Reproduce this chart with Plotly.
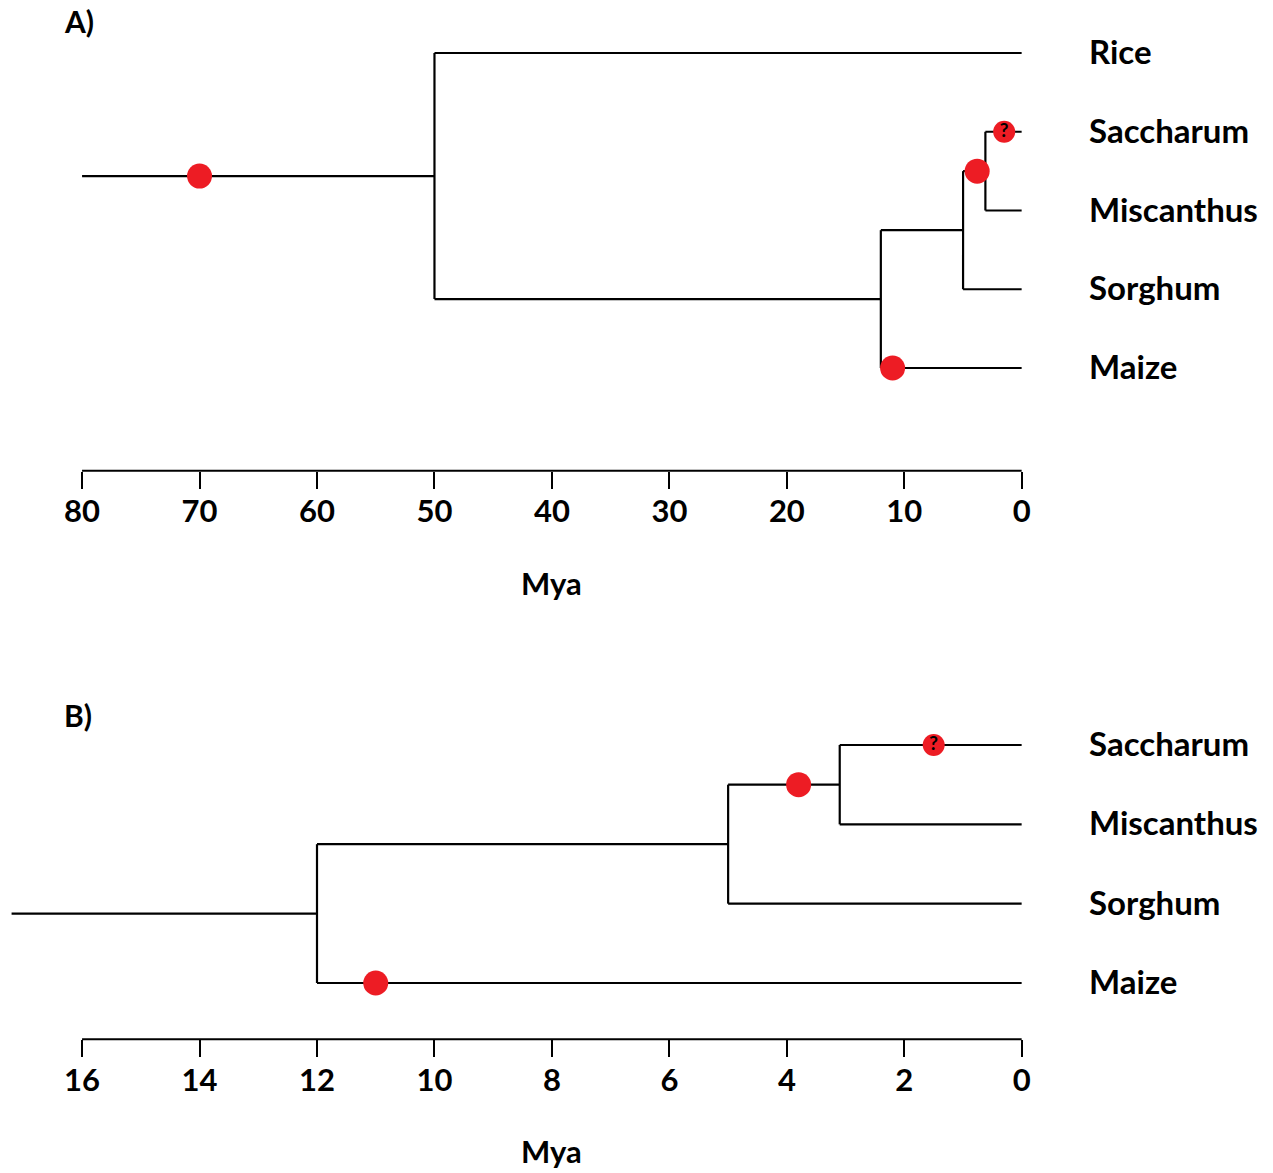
import plotly.graph_objects as go

# ---------------- data ----------------
# Panel A tree (ages in Mya)
tips_a = ["Rice", "Saccharum", "Miscanthus", "Sorghum", "Maize"]
root_start_a = 80
tree_a = (50, ["Rice", (12, [(5, [(3.1, ["Saccharum", "Miscanthus"]), "Sorghum"]), "Maize"])])
event_ages_a = [70, 3.8, 1.5, 11]
event_branch_a = ["root", "3.1", "Saccharum", "Maize"]
event_text_a = ["", "", "?", ""]
ticks_a = [80, 70, 60, 50, 40, 30, 20, 10, 0]

# Panel B tree
tips_b = ["Saccharum", "Miscanthus", "Sorghum", "Maize"]
root_start_b = 17.2
tree_b = (12, [(5, [(3.1, ["Saccharum", "Miscanthus"]), "Sorghum"]), "Maize"])
event_ages_b = [3.8, 1.5, 11]
event_branch_b = ["3.1", "Saccharum", "Maize"]
event_text_b = ["", "?", ""]
ticks_b = [16, 14, 12, 10, 8, 6, 4, 2, 0]

axis_title = "Mya"
panel_labels = ["A)", "B)"]

# ---------------- helpers ----------------
W, H = 1273, 1173      # reference canvas (positions below are given in these pixels)
FIG_W = 1283           # rendered width (page is squeezed slightly when photographed)
FONT = "Lato"
RED = "#ED1C24"


def layout_tree(tree, tips, root_start):
    n = len(tips)
    tip_y = {t: n - i for i, t in enumerate(tips)}
    xs, ys = [], []
    branch_y = {}

    def rec(node):
        if isinstance(node, str):
            return 0.0, tip_y[node], node
        age, children = node
        cinfo = [rec(c) for c in children]
        cy = [c[1] for c in cinfo]
        y = (min(cy) + max(cy)) / 2
        xs.extend([age, age, None])
        ys.extend([min(cy), max(cy), None])
        for cage, ccy, cname in cinfo:
            xs.extend([age, cage, None])
            ys.extend([ccy, ccy, None])
            branch_y[cname] = ccy
        return age, y, str(age)

    rage, ry, _ = rec(tree)
    xs.extend([root_start, rage, None])
    ys.extend([ry, ry, None])
    branch_y["root"] = ry
    return xs, ys, branch_y


fig = go.Figure()

# pixel geometry
x0_px, x80_px = 1021, 82
axisA_px, axisB_px = 470.7, 1039.3

panels = [
    dict(tree=tree_a, tips=tips_a, rs=root_start_a, ev=event_ages_a, eb=event_branch_a,
         et=event_text_a, ticks=ticks_a, xmax=80, axis_px=axisA_px, tip0_px=368.0, step=78.75,
         top_px=0.0, xa="x", ya="y"),
    dict(tree=tree_b, tips=tips_b, rs=root_start_b, ev=event_ages_b, eb=event_branch_b,
         et=event_text_b, ticks=ticks_b, xmax=16, axis_px=axisB_px, tip0_px=983.0, step=79.33,
         top_px=690.0, xa="x2", ya="y2"),
]

for k, p in enumerate(panels):
    xs, ys, by = layout_tree(p["tree"], p["tips"], p["rs"])
    fig.add_trace(go.Scatter(x=xs, y=ys, mode="lines", line=dict(color="black", width=2.2),
                             xaxis=p["xa"], yaxis=p["ya"], hoverinfo="skip", showlegend=False))
    ey = [by[b] for b in p["eb"]]
    sizes = [22 if t else 25 for t in p["et"]]
    fig.add_trace(go.Scatter(x=p["ev"], y=ey, mode="markers+text", text=p["et"],
                             textposition="middle center",
                             textfont=dict(family=FONT, size=19, color="black", weight="bold"),
                             marker=dict(color=RED, size=sizes, opacity=1, line=dict(width=0)),
                             xaxis=p["xa"], yaxis=p["ya"], showlegend=False, cliponaxis=False))

    pxu = (x0_px - x80_px) / p["xmax"]
    xr_max = p["xmax"] + x80_px / pxu
    n = len(p["tips"])
    y_bottom = 1 - (p["axis_px"] - p["tip0_px"]) / p["step"]
    y_top = 1 + (p["tip0_px"] - p["top_px"]) / p["step"]
    xname = "xaxis" if k == 0 else "xaxis2"
    yname = "yaxis" if k == 0 else "yaxis2"
    fig.update_layout(**{
        xname: dict(domain=[0, x0_px / W], range=[xr_max, 0], anchor=p["ya"],
                    showgrid=False, zeroline=False, showline=False,
                    tickmode="array", tickvals=p["ticks"], ticktext=[str(t) for t in p["ticks"]],
                    ticks="outside", ticklen=17, tickwidth=2, tickcolor="black",
                    tickfont=dict(family=FONT, size=31, color="black", weight="bold"),
                    ticklabelstandoff=-4, fixedrange=True),
        yname: dict(domain=[(H - p["axis_px"]) / H, (H - p["top_px"]) / H], range=[y_bottom, y_top],
                    anchor=p["xa"], visible=False, fixedrange=True),
    })
    # axis baseline
    fig.add_shape(type="line", xref=p["xa"], yref=p["ya"] + " domain", x0=p["xmax"], x1=0,
                  y0=0, y1=0, line=dict(color="black", width=2))
    # tip labels
    for i, t in enumerate(p["tips"]):
        fig.add_annotation(x=1086 / W, xref="paper", y=n - i, yref=p["ya"], text=t,
                           showarrow=False, xanchor="left", yanchor="middle", yshift=2,
                           font=dict(family=FONT, size=33, color="black", weight="bold"))
    # axis title
    fig.add_annotation(x=p["xmax"] / 2, xref=p["xa"], y=(H - (p["axis_px"] + 112)) / H, yref="paper",
                       text=axis_title, showarrow=False, xanchor="center", yanchor="middle",
                       font=dict(family=FONT, size=31, color="black", weight="bold"))
    # panel label
    fig.add_annotation(x=62 / W, xref="paper", y=(H - (21 if k == 0 else 715)) / H, yref="paper",
                       text=panel_labels[k], showarrow=False, xanchor="left", yanchor="middle",
                       font=dict(family=FONT, size=30, color="black", weight="bold"))

fig.update_layout(width=FIG_W, height=H, autosize=False, margin=dict(l=0, r=0, t=0, b=0),
                  paper_bgcolor="white", plot_bgcolor="white", showlegend=False)

fig.write_html(
    "out.html",
    config={"displayModeBar": False, "responsive": False},
    post_script="document.body.style.margin='0';document.documentElement.style.overflow='hidden';",
)
